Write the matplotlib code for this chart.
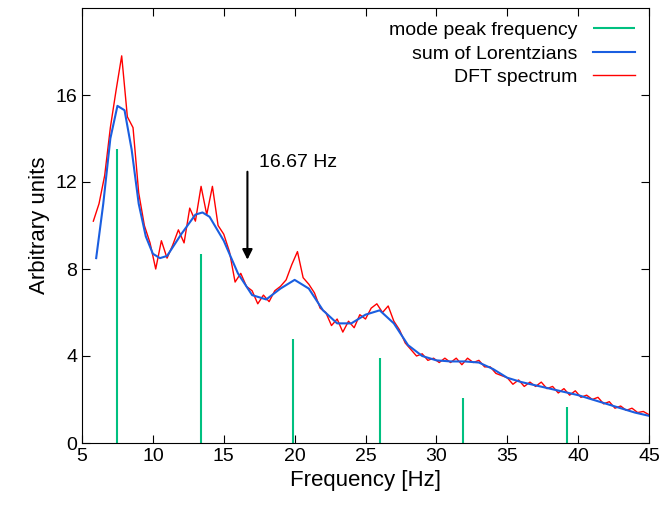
import numpy as np
import matplotlib
matplotlib.use("Agg")
import matplotlib.pyplot as plt

plt.rcParams['font.family'] = ['Liberation Sans', 'DejaVu Sans']

peak_freq = [7.5, 13.4, 19.9, 26.0, 31.9, 39.2]
peak_height = [13.5, 8.7, 4.8, 3.9, 2.05, 1.65]

lor_x = [6, 6.5, 7, 7.5, 8, 8.5, 9, 9.5, 10, 10.5, 11, 12, 13, 13.5, 14, 15, 16, 17, 18, 19, 20,
         21, 22, 23, 24, 25, 26, 27, 28, 29, 30, 31, 32, 33, 34, 35, 36, 37, 38, 39, 40, 41, 42, 43, 44, 45]
lor_y = [8.5, 11, 14, 15.5, 15.3, 13.5, 11, 9.5, 8.7, 8.5, 8.6, 9.6, 10.5, 10.6, 10.4, 9.3, 7.8, 6.8, 6.6, 7.1, 7.5,
         7.1, 6.1, 5.5, 5.5, 5.9, 6.1, 5.5, 4.5, 4.0, 3.8, 3.75, 3.75, 3.7, 3.4, 3.0, 2.8, 2.65, 2.5, 2.35, 2.2, 2.0, 1.8, 1.6, 1.4, 1.25]

dft_x = np.round(np.arange(5.8, 45.01, 0.4), 1)
dft_y = [10.2, 11.0, 12.3, 14.5, 16.2, 17.8, 15.0, 14.5, 11.5, 10.0,
         9.2, 8.0, 9.3, 8.5, 9.1, 9.8, 9.2, 10.8, 10.2, 11.8,
         10.5, 11.8, 10.0, 9.6, 8.8, 7.4, 7.8, 7.2, 7.0, 6.4,
         6.8, 6.5, 7.0, 7.2, 7.5, 8.2, 8.8, 7.6, 7.3, 6.9,
         6.2, 6.0, 5.4, 5.7, 5.1, 5.6, 5.3, 5.9, 5.7, 6.2,
         6.4, 6.0, 6.3, 5.6, 5.2, 4.6, 4.3, 4.0, 4.1, 3.8,
         3.9, 3.7, 3.9, 3.7, 3.9, 3.6, 3.9, 3.7, 3.8, 3.5,
         3.5, 3.2, 3.1, 3.0, 2.7, 2.9, 2.6, 2.8, 2.6, 2.8,
         2.5, 2.6, 2.3, 2.5, 2.2, 2.4, 2.1, 2.2, 2.0, 2.1,
         1.8, 1.9, 1.6, 1.7, 1.5, 1.6, 1.4, 1.45, 1.3]

fig = plt.figure(figsize=(6.64, 5.18), dpi=100)
ax = fig.add_axes([82/664, 1-443/518, (649-82)/664, (443-8)/518])

green = '#00c080'
blue = '#1a5ee0'
red = '#ff0000'
ax.vlines(peak_freq, 0, peak_height, color=green, lw=1.5, label='mode peak frequency')
ax.plot(dft_x, dft_y, color=red, lw=1.0, label='DFT spectrum', zorder=2)
ax.plot(lor_x, lor_y, color=blue, lw=1.5, label='sum of Lorentzians', zorder=3)

ax.annotate('', xy=(16.67, 8.3), xytext=(16.67, 12.6),
            arrowprops=dict(arrowstyle='-|>', color='black', lw=1.5, mutation_scale=15))
ax.text(17.5, 12.9, '16.67 Hz', fontsize=14, va='center')

ax.set_xlim(5, 45)
ax.set_ylim(0, 20)
ax.set_xticks(range(5, 46, 5))
ax.set_yticks([0, 4, 8, 12, 16])
ax.tick_params(direction='in', top=True, right=True, labelsize=14, length=6)
ax.set_xlabel('Frequency [Hz]', fontsize=16)
ax.set_ylabel('Arbitrary units', fontsize=16)

h, l = ax.get_legend_handles_labels()
order = [l.index('mode peak frequency'), l.index('sum of Lorentzians'), l.index('DFT spectrum')]
ax.legend([h[i] for i in order], [l[i] for i in order], loc='upper right', markerfirst=False,
          frameon=False, fontsize=14, handlelength=2.2, borderaxespad=0.3, labelspacing=0.3)

fig.savefig('out.png', dpi=100)
